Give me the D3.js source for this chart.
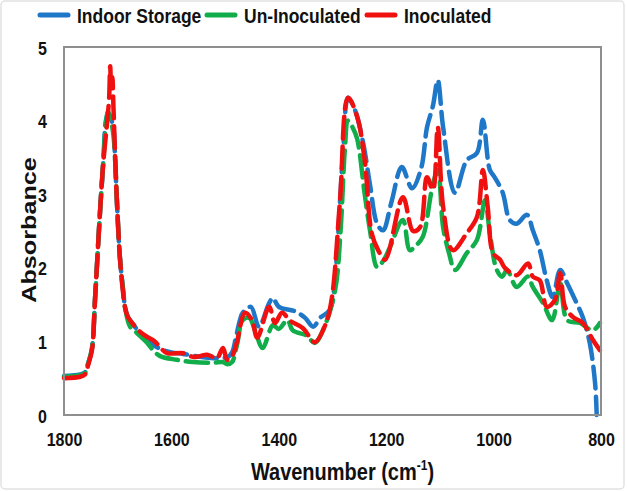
<!DOCTYPE html>
<html><head><meta charset="utf-8">
<script src="https://cdn.jsdelivr.net/npm/d3@7"></script>
<style>
html,body{margin:0;padding:0;background:#fff;}
text{font-family:"Liberation Sans",Arial,sans-serif;font-weight:bold;fill:#111;}
</style></head>
<body>
<svg id="chart" width="627" height="491"></svg>
<script>
// ---- data (wavenumber cm-1, absorbance) ----
const seriesNames = ["Indoor Storage", "Un-Inoculated", "Inoculated"];
const seriesColors = ["#1F77C8", "#12AD4B", "#F01010"];
const xTicks = [1800, 1600, 1400, 1200, 1000, 800];
const yTicks = [0, 1, 2, 3, 4, 5];

const indoorStorage = [[1800,0.53],[1770,0.55],[1761,0.58],[1755,0.7],[1748,0.9],[1742,1.6],[1733,2.75],[1727,3.42],[1722,4.0],[1718,4.1],[1714,4.05],[1708,3.9],[1705,3.5],[1701,2.83],[1696,2.15],[1690,1.7],[1686,1.45],[1681,1.33],[1673,1.25],[1653,1.06],[1640,0.98],[1621,0.9],[1600,0.85],[1578,0.83],[1547,0.79],[1523,0.77],[1504,0.78],[1496,0.78],[1487,0.85],[1480,1.05],[1472,1.3],[1467,1.39],[1452,1.47],[1437,1.2],[1418,1.52],[1411,1.59],[1400,1.47],[1370,1.41],[1351,1.32],[1336,1.2],[1323,1.32],[1305,1.43],[1294,1.97],[1286,2.9],[1280,3.6],[1271,4.31],[1258,4.14],[1243,3.7],[1230,3.12],[1217,2.6],[1206,2.51],[1190,2.9],[1171,3.37],[1152,3.08],[1135,3.35],[1124,3.91],[1113,4.2],[1104,4.55],[1094,3.91],[1072,3.02],[1050,3.46],[1031,3.56],[1020,4.01],[1007,3.33],[998,3.23],[983,3.02],[970,2.65],[957,2.6],[938,2.72],[927,2.51],[914,2.24],[901,1.83],[890,1.6],[876,1.97],[863,1.79],[848,1.56],[834,1.33],[821,0.98],[811,0.43],[808,0.0]];

const unInoculated = [[1800,0.52],[1770,0.54],[1761,0.57],[1755,0.7],[1748,0.9],[1742,1.6],[1733,2.75],[1727,3.42],[1722,3.95],[1718,4.12],[1714,4.05],[1708,3.8],[1705,3.5],[1701,2.83],[1696,2.15],[1690,1.7],[1686,1.45],[1677,1.2],[1665,1.12],[1645,0.98],[1634,0.88],[1621,0.8],[1590,0.75],[1560,0.72],[1523,0.71],[1504,0.72],[1496,0.69],[1487,0.72],[1478,0.95],[1467,1.29],[1455,1.32],[1443,1.12],[1430,0.91],[1411,1.22],[1400,1.17],[1384,1.29],[1374,1.15],[1348,1.08],[1333,0.98],[1314,1.22],[1295,1.7],[1285,2.5],[1277,3.6],[1271,4.0],[1262,3.9],[1254,3.75],[1240,3.0],[1230,2.5],[1217,2.01],[1205,2.1],[1193,2.28],[1169,2.65],[1156,2.24],[1145,2.3],[1132,2.42],[1115,3.06],[1104,3.33],[1094,2.55],[1083,2.2],[1072,1.97],[1050,2.2],[1031,2.38],[1016,2.92],[1007,2.47],[994,1.97],[984,1.88],[975,1.97],[957,1.74],[936,1.88],[927,1.74],[908,1.52],[891,1.29],[876,1.79],[863,1.29],[839,1.25],[815,1.15],[802,1.25]];

const inoculated = [[1800,0.5],[1770,0.52],[1761,0.55],[1755,0.68],[1748,0.88],[1742,1.6],[1733,2.75],[1727,3.42],[1720,3.95],[1716,4.3],[1714,4.74],[1712,4.4],[1710,4.59],[1708,4.2],[1705,3.56],[1701,2.83],[1696,2.15],[1690,1.66],[1686,1.45],[1681,1.33],[1672,1.24],[1660,1.14],[1645,1.06],[1631,1.0],[1621,0.92],[1608,0.84],[1578,0.84],[1560,0.79],[1547,0.8],[1534,0.82],[1523,0.79],[1515,0.77],[1504,0.91],[1496,0.75],[1487,0.8],[1478,0.99],[1463,1.39],[1450,1.29],[1440,1.05],[1418,1.47],[1407,1.25],[1394,1.39],[1379,1.28],[1355,1.18],[1333,0.99],[1312,1.25],[1301,1.6],[1286,2.92],[1271,4.31],[1254,4.05],[1240,3.46],[1227,2.47],[1215,2.24],[1202,2.11],[1169,2.96],[1150,2.5],[1137,2.55],[1124,3.23],[1113,3.06],[1104,3.91],[1094,2.83],[1076,2.24],[1050,2.47],[1031,2.69],[1020,3.33],[1011,2.83],[1001,2.2],[988,2.11],[979,2.0],[957,1.9],[936,2.06],[927,1.88],[914,1.83],[901,1.47],[886,1.56],[876,1.93],[867,1.47],[852,1.33],[834,1.25],[815,1.02],[802,0.88]];

const allSeries = [indoorStorage, unInoculated, inoculated];

// ---- layout ----
const svg = d3.select("#chart");
const W = 627, H = 491;
const m = {left: 64, top: 47, right: 601, bottom: 415};
const SY = 1.2; // vertical stretch of the text glyphs in the reference

svg.append("rect").attr("x",1).attr("y",1).attr("width",W-4).attr("height",H-3)
  .attr("rx",4).attr("fill","#fff").attr("stroke","#e2e2e2").attr("stroke-width",1.5);

const x = d3.scaleLinear().domain([1800, 800]).range([m.left, m.right]);
const y = d3.scaleLinear().domain([0, 5]).range([m.bottom, m.top]);

// axes (labels only)
const xAxis = d3.axisBottom(x).tickValues(xTicks).tickFormat(d3.format("d")).tickSize(0).tickPadding(0);
const gx = svg.append("g").attr("transform",`translate(0,${m.bottom})`).call(xAxis);
gx.select(".domain").remove();
gx.selectAll("text").attr("y",0).attr("dy",null)
  .attr("transform",`translate(0,31) scale(1,${SY})`)
  .style("font-size","16px").style("font-family","Liberation Sans, Arial").style("font-weight","bold").attr("fill","#111");

const yAxis = d3.axisLeft(y).tickValues(yTicks).tickFormat(d3.format("d")).tickSize(0).tickPadding(0);
const gy = svg.append("g").attr("transform",`translate(${m.left},0)`).call(yAxis);
gy.select(".domain").remove();
gy.selectAll(".tick text").attr("x",0).attr("dy",null).attr("y",0)
  .attr("transform",`translate(-17,7) scale(1,${SY})`)
  .style("font-size","16px").style("font-family","Liberation Sans, Arial").style("font-weight","bold").attr("fill","#111");

// lines
const line = d3.line().x(d=>x(d[0])).y(d=>y(d[1])).curve(d3.curveCatmullRom.alpha(0.5));
[0,1,2].forEach(i=>{
  svg.append("path").datum(allSeries[i]).attr("d",line)
    .attr("fill","none").attr("stroke",seriesColors[i]).attr("stroke-width",4.5)
    .attr("stroke-dasharray","22,8").attr("stroke-linecap","round").attr("stroke-linejoin","round");
});

// frame
svg.append("rect").attr("x",m.left).attr("y",m.top).attr("width",m.right-m.left).attr("height",m.bottom-m.top)
  .attr("fill","none").attr("stroke","#8f8f8f").attr("stroke-width",2);

// axis titles
svg.append("text").attr("transform",`translate(${(m.left+m.right)/2+10},480) scale(1,${SY})`).attr("text-anchor","middle")
  .style("font-size","20px")
  .html('Wavenumber (cm<tspan dy="-8" font-size="12px">-1</tspan><tspan dy="8">)</tspan>');
svg.append("text").attr("transform",`translate(36,230) rotate(-90) scale(${SY},1)`).attr("text-anchor","middle")
  .style("font-size","21px").text("Absorbance");

// legend
const legX = [40, 207, 367];
const leg = svg.append("g");
seriesNames.forEach((n,i)=>{
  leg.append("line").attr("x1",legX[i]).attr("x2",legX[i]+28).attr("y1",15).attr("y2",15)
    .attr("stroke",seriesColors[i]).attr("stroke-width",5).attr("stroke-linecap","round");
  leg.append("text").attr("transform",`translate(${legX[i]+37},23) scale(1,${SY})`)
    .style("font-size","17.5px").text(n);
});
</script>
</body></html>
